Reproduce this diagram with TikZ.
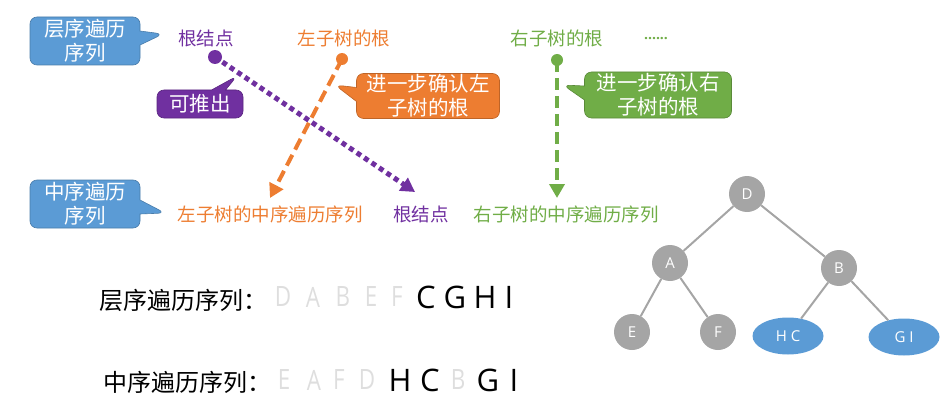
\documentclass[tikz,border=0pt]{standalone}
\usepackage{fontspec}
\setmainfont{Noto Sans CJK SC}
\newfontfamily\latf{Open Sans}
\newfontfamily\latn[FakeStretch=0.8]{Open Sans}
\usetikzlibrary{shapes.callouts,arrows.meta,shapes.geometric}
\definecolor{cblue}{HTML}{5B9BD5}
\definecolor{corange}{HTML}{ED7D31}
\definecolor{cgreen}{HTML}{70AD47}
\definecolor{cpurple}{HTML}{7030A0}
\definecolor{tgray}{HTML}{A5A5A5}
\definecolor{lgray}{HTML}{DEDEDE}
\begin{document}
\begin{tikzpicture}[x=1pt,y=-1pt,
  callbox/.style={rectangle callout, rounded corners=7pt, draw=#1!80!black, line width=0.6pt,
    fill=#1, text=white, align=center, inner sep=0pt, font=\fontsize{20.5}{24}\selectfont,
    callout pointer width=14pt},
  lbl/.style={font=\fontsize{18.5}{21}\selectfont, inner sep=0pt},
  tnode/.style={circle, fill=tgray, text=white, inner sep=0pt, minimum size=36pt, font=\latf\fontsize{15}{15}\selectfont},
  enode/.style={ellipse, fill=cblue, text=white, inner sep=0pt, minimum width=71pt, minimum height=37pt, font=\latf\fontsize{15}{15}\selectfont},
  tedge/.style={draw=tgray, line width=2pt},
  gl/.style={text=lgray, inner sep=0pt, font=\latn\fontsize{28}{30}\selectfont},
  bl/.style={text=black, inner sep=0pt, font=\latf\fontsize{31}{33}\selectfont},
  seqlbl/.style={inner sep=0pt, anchor=west, font=\fontsize{24}{28}\selectfont},
]
\useasboundingbox (0,0) rectangle (949,417);

% pointer targets
\coordinate (p1) at (163,34);
\coordinate (p2) at (165,213);
\coordinate (p3) at (237,76);
\coordinate (p4) at (335,85);
\coordinate (p5) at (563,85);

% callouts
\node[callbox=cblue, minimum width=110pt, minimum height=48pt, callout absolute pointer={(p1)}] (c1) at (85,41) {层序遍历\\序列};
\node[callbox=cblue, minimum width=110pt, minimum height=48pt, callout absolute pointer={(p2)}] (c2) at (85,204) {中序遍历\\序列};
\node[callbox=cpurple, minimum width=86pt, minimum height=28pt, callout absolute pointer={(p3)}] (c3) at (200,104) {可推出};
\node[callbox=corange, minimum width=143pt, minimum height=45pt, callout absolute pointer={(p4)}] (c4) at (428,96) {进一步确认左\\子树的根};
\node[callbox=cgreen, minimum width=147pt, minimum height=46pt, callout absolute pointer={(p5)}] (c5) at (658,95) {进一步确认右\\子树的根};

% top labels
\node[lbl, text=cpurple] (t1) at (206,38) {根结点};
\node[lbl, text=corange] (t2) at (344,38) {左子树的根};
\node[lbl, text=cgreen] (t3) at (557,38) {右子树的根};
\node[lbl, text=cgreen, font=\latf\bfseries\fontsize{14}{16}\selectfont] (t4) at (656,39) {......};

% bottom labels
\node[lbl, text=corange] (b1) at (270,214) {左子树的中序遍历序列};
\node[lbl, text=cpurple] (b2) at (421,214) {根结点};
\node[lbl, text=cgreen] (b3) at (566,214) {右子树的中序遍历序列};

% dots
\node[circle, fill=cpurple, inner sep=0pt, minimum size=14pt] (d1) at (215,57) {};
\node[circle, fill=corange, inner sep=0pt, minimum size=12pt] (d2) at (342,59) {};
\node[circle, fill=cgreen, inner sep=0pt, minimum size=12pt] (d3) at (557,60) {};

\coordinate (a1) at (415,192);
\coordinate (a2) at (270,198);
\coordinate (a3) at (557,198);

\draw[cpurple, line width=5pt, dash pattern=on 5pt off 4pt, -{Triangle[width=15pt,length=14pt]}] (d1.center) -- (a1);
\draw[corange, line width=4pt, dash pattern=on 12pt off 6pt, -{Triangle[width=15pt,length=14pt]}] (d2.center) -- (a2);
\draw[cgreen, line width=4pt, dash pattern=on 12pt off 6pt, -{Triangle[width=15pt,length=14pt]}] (d3.center) -- (a3);

% sequences
\node[seqlbl] (s1) at (99,300) {层序遍历序列：};
\node[seqlbl] (s2) at (103,382) {中序遍历序列：};
\foreach \t/\x [count=\i] in {D/283,A/313,B/343,E/371,F/397}
  \node[gl, name=ga\i] at (\x,297) {\t};
\foreach \t/\x [count=\i] in {C/426,G/455,H/485,I/509}
  \node[bl, name=ba\i] at (\x,297) {\t};
\foreach \t/\x [count=\i] in {E/284,A/314,F/339,D/367,B/458}
  \node[gl, name=gb\i] at (\x,380) {\t};
\foreach \t/\x [count=\i] in {H/400,C/430,G/488,I/514}
  \node[bl, name=bb\i] at (\x,380) {\t};

% tree
\node[tnode] (D) at (747,194) {D};
\node[tnode] (A) at (670,263) {A};
\node[tnode] (B) at (839,268) {B};
\node[tnode] (E) at (632,332) {E};
\node[tnode] (F) at (718,332) {F};
\node[enode] (HC) at (788,336) {H C};
\node[enode] (GI) at (904,337) {G I};
\draw[tedge] (D) -- (A);
\draw[tedge] (D) -- (B);
\draw[tedge] (A) -- (E);
\draw[tedge] (A) -- (F);
\draw[tedge] (B) -- (HC);
\draw[tedge] (B) -- (GI);
\end{tikzpicture}
\end{document}
